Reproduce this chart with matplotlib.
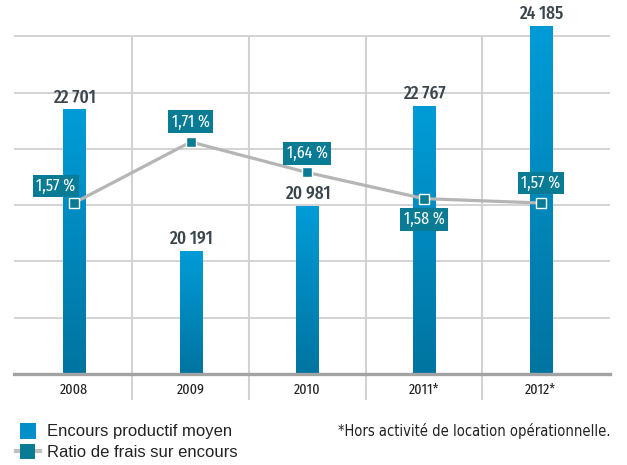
import matplotlib
matplotlib.use("Agg")
import matplotlib.pyplot as plt
import numpy as np
from matplotlib import font_manager
from matplotlib.font_manager import FontProperties
from matplotlib.colors import LinearSegmentedColormap
from matplotlib.patches import Rectangle
from matplotlib.lines import Line2D

years = ["2008", "2009", "2010", "2011*", "2012*"]
encours = [22701, 20191, 20981, 22767, 24185]
ratio = [1.57, 1.71, 1.64, 1.58, 1.57]
ratio_labels = ["1,57 %", "1,71 %", "1,64 %", "1,58 %", "1,57 %"]
# where the ratio box sits relative to its point (pixels)
box_offsets = [(-18, 17), (0, 20), (0, 19), (0, -21), (0, 20)]


def narrow_font(weight, keys=("extracondensed", "extra-condensed", "condensed", "narrow")):
    # the reference uses a condensed gothic; take the closest installed face
    faces = [f for f in font_manager.fontManager.ttflist
             if f.style == "normal" and f.fname.lower().endswith((".ttf", ".otf"))]
    for key in keys:
        pick = [f for f in faces
                if key in (f.name + " " + f.fname + " " + f.stretch).lower().replace(" ", "")
                and "semi" not in f.fname.lower() and "ultra" not in f.fname.lower()]
        if key == "condensed":
            pick = [f for f in pick if "extra" not in f.fname.lower()]
        if pick:
            best = min(pick, key=lambda f: abs(int(f.weight) - weight))
            return FontProperties(fname=best.fname)
    return FontProperties(family="DejaVu Sans", weight=weight)


NARROW = narrow_font(400)
NARROW_B = narrow_font(500)
COND = narrow_font(400, ("condensed", "narrow", "extracondensed"))
REGULAR = dict(family=["Liberation Sans", "DejaVu Sans"])
TEAL = "#0a7b94"
TEXT = "#3a454c"

fig = plt.figure(figsize=(6.27, 4.65), dpi=100)
ax = fig.add_axes([14 / 627, (465 - 374) / 465, 596 / 627, 354 / 465])

x = np.arange(len(years))
ymin, ymax = 18000, 18000 + 354 / 56.3 * 1000

# horizontal grid
for g in range(19000, 24001, 1000):
    ax.axhline(g, color="#cccccc", lw=1.2, zorder=0)
# vertical separators, running down through the tick labels
ax.vlines(x[:-1] + 0.5, 18000 - 26 / 56.3 * 1000, 24000, color="#d2d2d2",
          lw=1.5, zorder=0, clip_on=False)

# bars with a vertical gradient
cmap = LinearSegmentedColormap.from_list("bar", ["#0074a0", "#009cd8"])
grad = np.linspace(0, 1, 256).reshape(-1, 1)
w = 0.19
bars = ax.bar(x, encours, width=w, color="none", zorder=2)
for xi, v, p in zip(x, encours, bars):
    im = ax.imshow(grad, extent=[xi - w / 2, xi + w / 2, ymin, v], origin="lower",
                   cmap=cmap, aspect="auto", zorder=2)
    im.set_clip_path(p)
    ax.annotate(f"{v:,}".replace(",", " "), (xi, v), xytext=(0, 3),
                textcoords="offset pixels", ha="center", va="bottom",
                fontproperties=NARROW_B, fontsize=13.5, color=TEXT)
ax.set_xlim(-0.514, 4.593)
ax.set_ylim(ymin, ymax)

ax.axhline(ymin, color="#a3a3a3", lw=2.4, zorder=3, clip_on=False)

ax.set_xticks(x)
ax.set_xticklabels(years)
for t in ax.get_xticklabels():
    t.set_fontproperties(NARROW)
    t.set_fontsize(11)
    t.set_color("#222222")
ax.tick_params(axis="x", length=0, pad=6)
ax.set_yticks([])
for s in ax.spines.values():
    s.set_visible(False)

# ratio line on secondary axis
ax2 = ax.twinx()
ax2.set_ylim(1.57 - 171 / 436, 1.57 + 183 / 436)
ax2.plot(x, ratio, color="#b5b5b5", lw=2.3, zorder=3)
ax2.plot(x, ratio, ls="none", marker="s", ms=7, mfc=TEAL, mec="white",
         mew=1.0, zorder=4)
for xi, r, lab, (dx, dy) in zip(x, ratio, ratio_labels, box_offsets):
    ax2.annotate(lab, (xi, r), xytext=(dx, dy), textcoords="offset pixels",
                 ha="center", va="center", fontproperties=NARROW, fontsize=12.5,
                 color="white",
                 bbox=dict(boxstyle="square,pad=0.2", fc=TEAL, ec="none"))
ax2.set_yticks([])
for s in ax2.spines.values():
    s.set_visible(False)

# legend, drawn by hand
fig.patches.append(Rectangle((20 / 627, (465 - 439) / 465), 16 / 627, 16 / 465,
                             transform=fig.transFigure, fc="#008fc6", ec="none"))
fig.text(47 / 627, (465 - 431) / 465, "Encours productif moyen", fontsize=12,
         color="#222222", va="center", **REGULAR)
fig.lines.append(Line2D([16 / 627, 40 / 627], [(465 - 451) / 465] * 2,
                        transform=fig.transFigure, color="#c0c0c0", lw=3, zorder=1))
fig.patches.append(Rectangle((20 / 627, (465 - 459) / 465), 15 / 627, 15 / 465,
                             transform=fig.transFigure, fc=TEAL, ec="none", zorder=2))
fig.text(47 / 627, (465 - 452) / 465, "Ratio de frais sur encours", fontsize=12,
         color="#222222", va="center", **REGULAR)

fig.text(611 / 627, (465 - 431) / 465, "*Hors activité de location opérationnelle.",
         fontproperties=COND, fontsize=10.5, color="#222222", ha="right",
         va="center")

fig.savefig("out.png", dpi=100)
